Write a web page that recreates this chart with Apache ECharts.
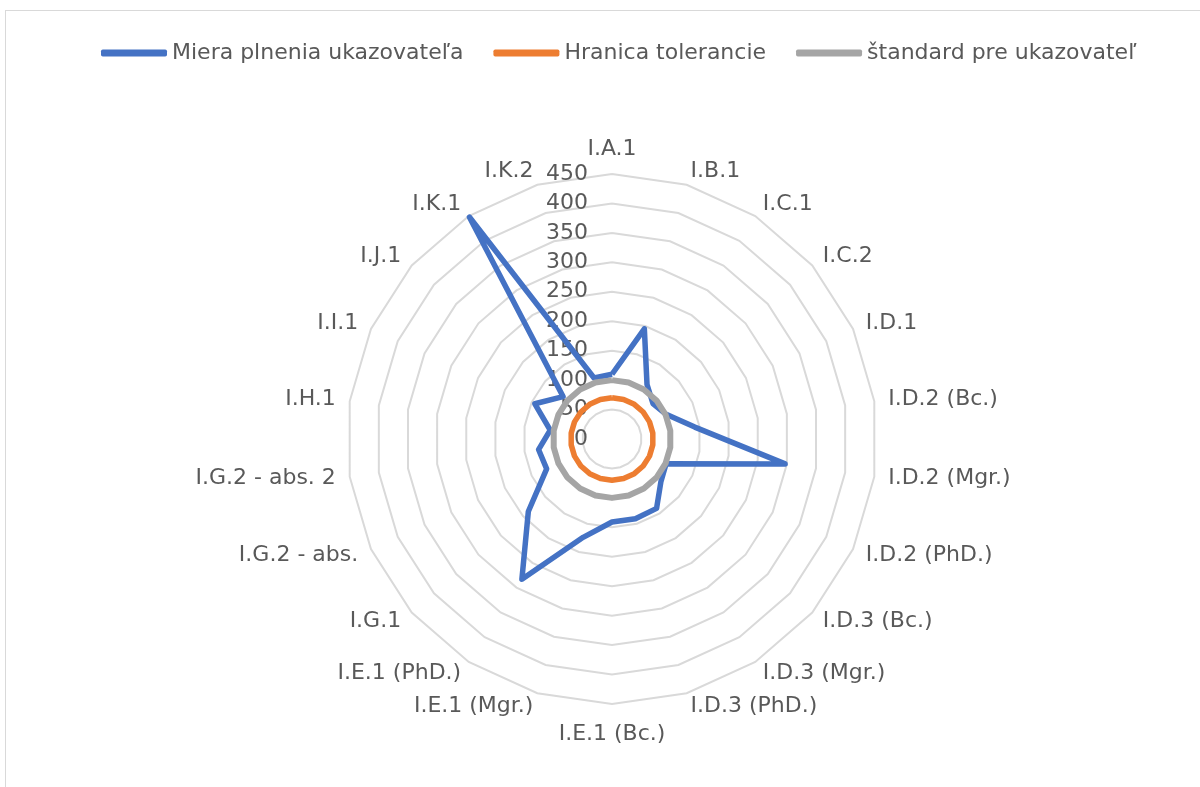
<!DOCTYPE html>
<html><head><meta charset="utf-8">
<script src="https://cdn.jsdelivr.net/npm/echarts@6/dist/echarts.min.js"></script>
<style>
html,body{margin:0;padding:0;background:#fff;overflow:hidden;width:1200px;height:787px}
#frame{position:absolute;left:5px;top:10px;width:1300px;height:900px;border:1px solid #d9d9d9;box-sizing:border-box}
#chart{position:absolute;left:0;top:0;width:1200px;height:787px}
</style></head><body>
<div id="frame"></div>
<div id="chart"></div>
<script>
const categories = ['I.A.1','I.B.1','I.C.1','I.C.2','I.D.1','I.D.2 (Bc.)','I.D.2 (Mgr.)','I.D.2 (PhD.)','I.D.3 (Bc.)','I.D.3 (Mgr.)','I.D.3 (PhD.)','I.E.1 (Bc.)','I.E.1 (Mgr.)','I.E.1 (PhD.)','I.G.1','I.G.2 - abs.','I.G.2 - abs. 2','I.H.1','I.I.1','I.J.1','I.K.1','I.K.2'];
const seriesNames = ['Miera plnenia ukazovateľa','Hranica tolerancie','štandard pre ukazovateľ'];
const plnenie = [110,195,110,92,101,142,297,101,110,140,141,141,174,283,188,122,126,106,144,110,448,108];
const tolerancia = [70,70,70,70,70,70,70,70,70,70,70,70,70,70,70,70,70,70,70,70,70,70];
const standard = [100,100,100,100,100,100,100,100,100,100,100,100,100,100,100,100,100,100,100,100,100,100];
const axisMin = 0, axisMax = 450, axisSplits = 9;

const FONT = 'DejaVu Sans';
const TXT = '#595959';
const colors = ['#4472C4','#ED7D31','#A5A5A5'];

// ECharts radar runs counter-clockwise; reverse order (keeping first) so it reads clockwise like the original
const n = categories.length;
const order = categories.map((_, i) => (n - i) % n);
const indicator = order.map((k, j) => {
  const o = { name: categories[k], min: axisMin, max: axisMax };
  if (j === 0) o.axisLabel = { show: true };
  return o;
});
const reorder = arr => order.map(k => arr[k]);

const chart = echarts.init(document.getElementById('chart'), null, {renderer: 'canvas'});
chart.setOption({
  animation: false,
  color: colors,
  textStyle: { fontFamily: FONT },
  legend: {
    top: 37, left: 96,
    icon: 'roundRect',
    itemWidth: 66, itemHeight: 7,
    itemGap: 30,
    textStyle: { fontFamily: FONT, fontSize: 22, color: TXT },
    data: seriesNames
  },
  radar: {
    center: [612, 439],
    radius: 265,
    startAngle: 90,
    splitNumber: axisSplits,
    shape: 'polygon',
    nameGap: 14,
    axisName: { color: TXT, fontFamily: FONT, fontSize: 22, padding: [5, 0, 0, 0] },
    axisLine: { show: false },
    axisTick: { show: false },
    splitArea: { show: false },
    splitLine: { lineStyle: { color: '#d9d9d9', width: 2 } },
    axisLabel: { show: false, color: TXT, fontFamily: FONT, fontSize: 22, margin: 24 },
    indicator: indicator
  },
  series: [{
    type: 'radar',
    symbol: 'none',
    data: [
      { name: seriesNames[0], value: reorder(plnenie), lineStyle: { color: colors[0], width: 5.5, join: 'round' }, itemStyle: { color: colors[0] } },
      { name: seriesNames[1], value: reorder(tolerancia), lineStyle: { color: colors[1], width: 5.5, join: 'round' }, itemStyle: { color: colors[1] } },
      { name: seriesNames[2], value: reorder(standard), lineStyle: { color: colors[2], width: 6, join: 'round' }, itemStyle: { color: colors[2] } }
    ]
  }]
});
</script>
</body></html>
